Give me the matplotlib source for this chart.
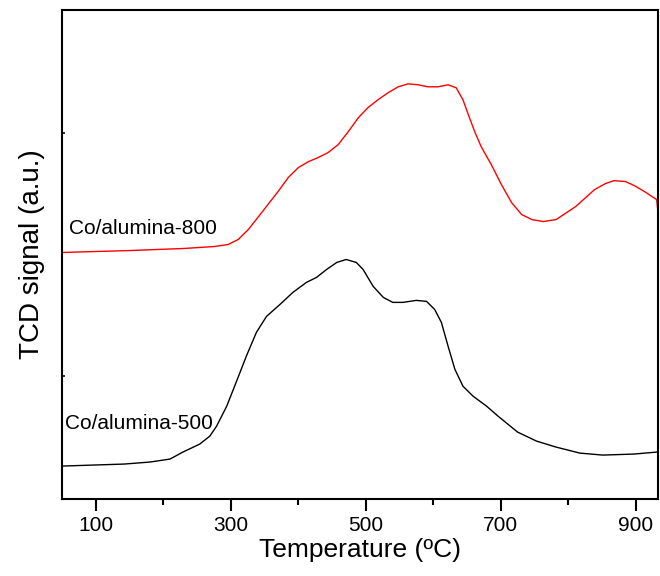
import matplotlib
matplotlib.use("Agg")
import matplotlib.pyplot as plt

plt.rcParams['font.family'] = ['Liberation Sans', 'DejaVu Sans']

# Co/alumina-800 (red), temperature in C, signal in a.u.
temp_800 = [50, 153, 230, 276, 296, 311, 326, 340, 355, 370, 385, 400, 415, 429,
            444, 459, 474, 489, 503, 518, 533, 548, 563, 578, 592, 607, 622, 634,
            644, 652, 662, 671, 686, 701, 716, 731, 746, 763, 782, 811, 839, 855,
            868, 885, 898, 913, 931, 933]
tcd_800 = [247, 249, 251, 253, 255, 260, 270, 282, 295, 308, 322, 332, 338, 342,
           347, 355, 368, 382, 392, 400, 407, 413, 416, 415, 413, 413, 415, 412,
           400, 385, 367, 353, 335, 315, 297, 285, 280, 278, 280, 293, 310, 316,
           319, 318, 314, 308, 300, 287]

# Co/alumina-500 (black)
temp_500 = [51, 142, 180, 210, 229, 254, 269, 279, 294, 308, 323, 338, 353, 373,
            392, 412, 427, 442, 457, 471, 486, 496, 511, 526, 540, 555, 575, 590,
            602, 612, 622, 632, 644, 659, 679, 696, 725, 753, 782, 817, 851, 897,
            931]
tcd_500 = [33, 35, 37, 40, 47, 55, 63, 73, 93, 117, 143, 167, 183, 195,
           207, 217, 222, 230, 237, 240, 237, 230, 213, 202, 197, 197, 199, 198,
           190, 177, 153, 130, 113, 103, 93, 83, 67, 58, 52, 46, 44, 45,
           47]

xticks_major = [100, 300, 500, 700, 900]
xticks_minor = [200, 400, 600, 800]
yticks = [123, 367]

fig = plt.figure(figsize=(6.6, 5.76), dpi=100)
ax = fig.add_axes([0.094, 0.1337, 0.903, 0.849])

ax.plot(temp_800, tcd_800, color='#ff0000', lw=1.0)
ax.plot(temp_500, tcd_500, color='black', lw=1.0)

ax.text(60, 271, 'Co/alumina-800', fontsize=15, va='center', ha='left')
ax.text(54, 76, 'Co/alumina-500', fontsize=15, va='center', ha='left')

ax.set_xlim(50, 933)
ax.set_ylim(0, 490)
ax.set_xticks(xticks_major)
ax.set_xticks(xticks_minor, minor=True)
ax.set_xticklabels([str(t) for t in xticks_major])
ax.set_yticks(yticks)
ax.set_yticklabels([])

ax.tick_params(axis='x', which='major', direction='out', length=8.5, width=1.5,
               labelsize=15, pad=4)
ax.tick_params(axis='x', which='minor', direction='out', length=4.5, width=1.5)
ax.tick_params(axis='y', which='major', direction='in', length=2.5, width=1.2)

for s in ax.spines.values():
    s.set_linewidth(1.5)

ax.set_xlabel('Temperature (ºC)', fontsize=19, labelpad=2)
ax.set_ylabel('TCD signal (a.u.)', fontsize=20, labelpad=9)

fig.savefig('out.png', dpi=100)
